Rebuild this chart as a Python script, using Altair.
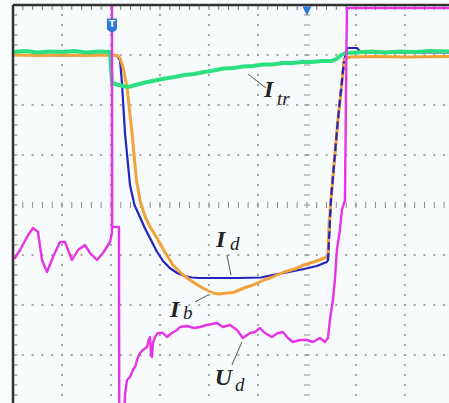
import altair as alt
import numpy as np
import pandas as pd

# Scope capture, all values in screen divisions (time across, amplitude up)
itr_t = [0, 0.25, 0.5, 0.75, 1.0, 1.25, 1.5, 1.75, 1.98, 2.02, 2.08, 2.16, 2.29, 2.35, 2.5, 2.7, 2.9, 3.1, 3.3,
         3.5, 3.7, 3.9, 4.1, 4.3, 4.5, 4.7, 4.9, 5.1, 5.3, 5.5, 5.7, 5.9, 6.1, 6.3, 6.5, 6.6, 6.7, 6.8, 7.0,
         7.3, 7.6, 7.9, 8.2, 8.5, 8.9]
itr_v = [7.06, 7.08, 7.05, 7.07, 7.06, 7.08, 7.05, 7.07, 7.06, 6.46, 6.42, 6.40, 6.37, 6.36, 6.40, 6.45, 6.49,
         6.53, 6.56, 6.60, 6.62, 6.66, 6.69, 6.73, 6.74, 6.77, 6.78, 6.81, 6.81, 6.84, 6.84, 6.86, 6.86, 6.88,
         6.88, 6.92, 7.0, 7.04, 7.05, 7.07, 7.05, 7.07, 7.06, 7.08, 7.07]

ib_t = [0, 0.5, 1.0, 1.5, 2.0, 2.13, 2.184, 2.245, 2.327, 2.429, 2.52, 2.6, 2.7, 2.8, 2.939, 3.1, 3.265, 3.45,
        3.612, 3.8, 3.95, 4.082, 4.2, 4.367, 4.5, 4.714, 4.9, 5.122, 5.3, 5.531, 5.75, 5.939, 6.2, 6.408,
        6.43, 6.45, 6.49, 6.56, 6.633, 6.7, 6.755, 6.8, 6.9, 7.4, 8.0, 8.9]
ib_v = [7.0, 6.99, 7.0, 6.99, 7.0, 6.99, 6.94, 6.76, 6.36, 5.44, 4.5, 4.06, 3.76, 3.56, 3.34, 3.06, 2.8, 2.62,
        2.5, 2.38, 2.3, 2.24, 2.22, 2.24, 2.25, 2.34, 2.4, 2.5, 2.56, 2.66, 2.72, 2.8, 2.88, 2.96,
        2.98, 3.6, 4.1, 4.9, 5.7, 6.3, 6.86, 6.94, 6.96, 6.97, 6.96, 6.97]

id_t = [0, 0.5, 1.0, 1.5, 2.0, 2.12, 2.184, 2.224, 2.286, 2.388, 2.48, 2.6, 2.7, 2.796, 2.93, 3.061, 3.2,
        3.35, 3.5, 3.65, 3.8, 4.2, 4.6, 5.061, 5.3, 5.531, 5.939, 6.2, 6.408, 6.43, 6.49, 6.633, 6.755,
        6.816, 7.02, 7.1, 8.0, 8.9]
id_v = [7.0, 7.0, 6.99, 7.0, 7.0, 6.99, 6.9, 6.44, 5.44, 4.4, 4.0, 3.74, 3.52, 3.34, 3.08, 2.88, 2.74,
        2.64, 2.58, 2.55, 2.54, 2.54, 2.54, 2.55, 2.6, 2.64, 2.72, 2.78, 2.86, 2.9, 4.1, 5.7, 6.86,
        7.14, 7.14, 7.05, 7.05, 7.05]

ud_t = [0, 0.041, 0.143, 0.286, 0.408, 0.51, 0.592, 0.694, 0.816, 0.959, 1.061, 1.204, 1.327, 1.469,
        1.571, 1.714, 1.837, 1.98, 2.02, 2.02, 2.025, 2.143, 2.163, 2.17, 2.26, 2.286, 2.327, 2.388,
        2.449, 2.5, 2.531, 2.592, 2.653, 2.735, 2.77, 2.796, 2.82, 2.837, 2.857, 2.898, 2.959, 3.061,
        3.143, 3.245, 3.347, 3.408, 3.55, 3.7, 3.816, 3.959, 4.163, 4.286, 4.429, 4.571, 4.694, 4.837,
        4.939, 5.041, 5.143, 5.286, 5.408, 5.51, 5.612, 5.714, 5.857, 6.0, 6.122, 6.265, 6.367, 6.429,
        6.469, 6.531, 6.571, 6.612, 6.673, 6.714, 6.776, 6.816, 8.9]
ud_v = [2.96, 2.94, 3.1, 3.36, 3.54, 3.46, 2.9, 2.66, 2.96, 3.26, 3.26, 2.9, 3.1, 3.2, 3.04, 2.9, 3.04,
        3.26, 3.44, 8.5, 3.56, 3.56, 3.56, -0.5, -0.5, 0.2, 0.5, 0.56, 0.7, 0.78, 0.9, 1.04, 1.1, 1.16,
        1.3, 1.36, 0.98, 0.96, 1.24, 1.36, 1.44, 1.44, 1.36, 1.44, 1.5, 1.56, 1.58, 1.54, 1.56, 1.6,
        1.64, 1.56, 1.6, 1.5, 1.34, 1.44, 1.46, 1.54, 1.44, 1.36, 1.44, 1.46, 1.34, 1.26, 1.3, 1.3,
        1.26, 1.34, 1.26, 1.34, 1.7, 2.1, 2.5, 3.1, 3.5, 3.9, 4.1, 7.94, 7.94]

# rising edge of Id drawn dashed over Ib
edge_t = [6.43, 6.49, 6.633, 6.755]
edge_v = [2.9, 4.1, 5.7, 6.86]

# trace labels: main letter, subscript, positions, leader lines
lab_main = ["I", "I", "I", "U"]
lab_sub = ["tr", "d", "b", "d"]
lab_t = [5.122, 4.143, 3.204, 4.12]
lab_v = [6.16, 3.16, 1.76, 0.40]
sub_t = [5.39, 4.43, 3.47, 4.53]
sub_v = [6.0, 3.1, 1.72, 0.28]
lead_t1 = [4.796, 4.367, 3.714, 4.469]
lead_v1 = [6.62, 3.0, 2.06, 0.80]
lead_t2 = [5.163, 4.449, 3.98, 4.673]
lead_v2 = [6.34, 2.6, 2.2, 1.26]

X = alt.Scale(domain=[0, 8.9], nice=False, zero=False)
Y = alt.Scale(domain=[0, 8], nice=False, zero=False)


def trace(t, v):
    return pd.DataFrame({"t": t, "v": v, "i": range(len(t))})


def line(df, color, width, dash=None):
    kw = dict(color=color, strokeWidth=width, clip=True, strokeJoin="round", strokeCap="round")
    if dash:
        kw["strokeDash"] = dash
    return alt.Chart(df).mark_line(**kw).encode(
        x=alt.X("t:Q", scale=X, axis=None),
        y=alt.Y("v:Q", scale=Y, axis=None),
        order="i:Q",
    )


# dotted graticule
fine_x = np.round(np.arange(0.2, 8.9, 0.2), 3)
fine_y = np.round(np.arange(0.2, 8.0, 0.2), 3)
dots = []
for k in [1, 2, 3, 4, 5, 7, 8]:
    dots += [(k, y) for y in fine_y]
for j in [1, 2, 3, 5, 6, 7]:
    dots += [(x, j) for x in fine_x]
dots_df = pd.DataFrame(dots, columns=["t", "v"])

grid = alt.Chart(dots_df).mark_square(size=4, color="#9a9a9a", opacity=0.9).encode(
    x=alt.X("t:Q", scale=X, axis=None), y=alt.Y("v:Q", scale=Y, axis=None))

# centre axes with minor ticks
cv = pd.DataFrame({"v": fine_y, "a": 5.94, "b": 6.06})
ch = pd.DataFrame({"t": fine_x, "a": 3.94, "b": 4.06})
centre_v = alt.Chart(cv).mark_rule(color="#8a8a8a", strokeWidth=1).encode(
    x=alt.X("a:Q", scale=X, axis=None), x2="b:Q", y=alt.Y("v:Q", scale=Y, axis=None))
centre_h = alt.Chart(ch).mark_rule(color="#8a8a8a", strokeWidth=1).encode(
    y=alt.Y("a:Q", scale=Y, axis=None), y2="b:Q", x=alt.X("t:Q", scale=X, axis=None))

# border ticks
lt = pd.DataFrame({"v": fine_y, "a": 0.0, "b": 0.09})
tt = pd.DataFrame({"t": fine_x, "a": 7.9, "b": 8.0})
left_ticks = alt.Chart(lt).mark_rule(color="#777", strokeWidth=1).encode(
    x=alt.X("a:Q", scale=X, axis=None), x2="b:Q", y=alt.Y("v:Q", scale=Y, axis=None))
top_ticks = alt.Chart(tt).mark_rule(color="#777", strokeWidth=1).encode(
    y=alt.Y("a:Q", scale=Y, axis=None), y2="b:Q", x=alt.X("t:Q", scale=X, axis=None))

one = pd.DataFrame({"a": [0]})
left_border = alt.Chart(one).mark_rule(color="#333", strokeWidth=2.5).encode(
    x=alt.value(0), y=alt.value(0), y2=alt.value(400))
top_border = alt.Chart(one).mark_rule(color="#333", strokeWidth=2.5).encode(
    y=alt.value(0), x=alt.value(0), x2=alt.value(436))

# trigger markers
flag = alt.Chart(pd.DataFrame({"t": [2.02], "v": [7.59]})).mark_point(
    shape="M -1 -1.4 L 1 -1.4 L 1 0.8 L 0 1.5 L -1 0.8 Z", size=100, filled=True,
    color="#2b78d8", opacity=1).encode(
    x=alt.X("t:Q", scale=X, axis=None), y=alt.Y("v:Q", scale=Y, axis=None))
flag_text = alt.Chart(pd.DataFrame({"t": [2.02], "v": [7.62], "s": ["T"]})).mark_text(
    color="white", fontSize=9, fontWeight="bold", font="DejaVu Sans", baseline="middle").encode(
    x=alt.X("t:Q", scale=X, axis=None), y=alt.Y("v:Q", scale=Y, axis=None), text="s:N")
pos_mark = alt.Chart(pd.DataFrame({"t": [6.0], "v": [7.88]})).mark_point(
    shape="M -1 -1 L 1 -1 L 0 1 Z", size=81, filled=True, color="#2b78d8", opacity=1).encode(
    x=alt.X("t:Q", scale=X, axis=None), y=alt.Y("v:Q", scale=Y, axis=None))

# labels
main_df = pd.DataFrame({"t": lab_t, "v": lab_v, "s": lab_main})
sub_df = pd.DataFrame({"t": sub_t, "v": sub_v, "s": lab_sub})
lead_df = pd.DataFrame({"t": lead_t1, "v": lead_v1, "t2": lead_t2, "v2": lead_v2})
labels_main = alt.Chart(main_df).mark_text(
    font="Liberation Serif", fontSize=24, fontStyle="italic", fontWeight="bold", color="#222",
    align="left", baseline="alphabetic").encode(
    x=alt.X("t:Q", scale=X, axis=None), y=alt.Y("v:Q", scale=Y, axis=None), text="s:N")
labels_sub = alt.Chart(sub_df).mark_text(
    font="Liberation Serif", fontSize=19, fontStyle="italic", color="#222",
    align="left", baseline="alphabetic").encode(
    x=alt.X("t:Q", scale=X, axis=None), y=alt.Y("v:Q", scale=Y, axis=None), text="s:N")
leaders = alt.Chart(lead_df).mark_rule(color="#555", strokeWidth=1).encode(
    x=alt.X("t:Q", scale=X, axis=None), y=alt.Y("v:Q", scale=Y, axis=None), x2="t2:Q", y2="v2:Q")

chart = alt.layer(
    grid, centre_v, centre_h, left_ticks, top_ticks,
    line(trace(id_t, id_v), "#2323c0", 2.2),
    line(trace(ib_t, ib_v), "#f2a23a", 3),
    line(trace(edge_t, edge_v), "#2323c0", 2.2, dash=[6, 5]),
    line(trace(itr_t, itr_v), "#2de07f", 4),
    line(trace(ud_t, ud_v), "#e633e6", 2.4),
    leaders, labels_main, labels_sub,
    left_border, top_border, flag, flag_text, pos_mark,
).properties(
    width=436, height=400,
    padding={"left": 13, "top": 5, "right": 0, "bottom": 0},
    autosize=alt.AutoSizeParams(type="none"),
    background="#fafdfd",
).configure_view(stroke=None, fill="#f8fbfb")

chart.save("out.html", embed_options={"renderer": "svg", "actions": False})
